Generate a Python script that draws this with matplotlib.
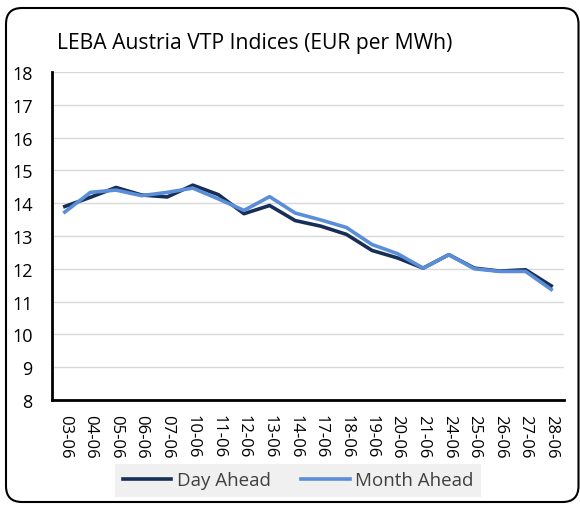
import matplotlib
matplotlib.use("Agg")
import matplotlib.pyplot as plt
from matplotlib.patches import FancyBboxPatch

dates = ["03-06", "04-06", "05-06", "06-06", "07-06", "10-06", "11-06", "12-06", "13-06", "14-06",
         "17-06", "18-06", "19-06", "20-06", "21-06", "24-06", "25-06", "26-06", "27-06", "28-06"]
day_ahead = [13.90, 14.18, 14.48, 14.25, 14.19, 14.55, 14.26, 13.68, 13.93, 13.47,
             13.30, 13.05, 12.56, 12.33, 12.02, 12.43, 12.02, 11.93, 11.97, 11.48]
month_ahead = [13.73, 14.33, 14.40, 14.23, 14.33, 14.46, 14.13, 13.78, 14.20, 13.70,
               13.49, 13.26, 12.74, 12.46, 12.02, 12.43, 12.00, 11.92, 11.92, 11.37]
yticks = [8, 9, 10, 11, 12, 13, 14, 15, 16, 17, 18]

plt.rcParams['font.family'] = ['Open Sans', 'DejaVu Sans']

W, H = 580, 506
fig = plt.figure(figsize=(W / 100, H / 100), dpi=100)
ax = fig.add_axes([52 / W, 1 - 401 / H, (564 - 52) / W, (401 - 73) / H])

x = list(range(len(dates)))
ax.plot(x, day_ahead, color='#172f57', lw=2.6, label='Day Ahead', solid_joinstyle='round')
ax.plot(x, month_ahead, color='#5a8ed8', lw=2.6, label='Month Ahead', solid_joinstyle='round')

ax.set_xlim(-0.5, len(dates) - 0.5)
ax.set_ylim(8, 18)
ax.set_yticks(yticks)
ax.set_yticklabels([str(v) for v in yticks], fontsize=13)
ax.set_xticks(x)
ax.set_xticklabels(dates, rotation=-90, fontsize=12, va='top', ha='center')
ax.tick_params(axis='both', length=0, colors='black')
ax.tick_params(axis='x', pad=10)
ax.tick_params(axis='y', pad=14)
for lbl in ax.get_yticklabels():
    lbl.set_horizontalalignment('right')
ax.grid(axis='y', color='#d9d9d9', lw=1)
ax.set_axisbelow(True)
for s in ['top', 'right']:
    ax.spines[s].set_visible(False)
for s in ['left', 'bottom']:
    ax.spines[s].set_linewidth(2)
    ax.spines[s].set_color('black')

fig.text(57 / W, 1 - 43 / H, 'LEBA Austria VTP Indices (EUR per MWh)', fontsize=15.2,
         ha='left', va='center', color='black')

leg = fig.legend(loc='center', bbox_to_anchor=(298 / W, 1 - 481.5 / H), ncol=2,
                 fontsize=13.5, frameon=True, facecolor='#f0f0f0', edgecolor='none',
                 fancybox=False, handlelength=2.6, columnspacing=1.6, handletextpad=0.3,
                 borderpad=0.4, labelcolor='#404040')
leg.get_frame().set_alpha(1)

border = FancyBboxPatch((0.06, 0.03), 5.725, 4.94,
                        boxstyle='round,pad=0,rounding_size=0.16',
                        transform=fig.dpi_scale_trans, fill=False, ec='black', lw=1.5)
fig.patches.append(border)

fig.savefig('out.png', dpi=100)
